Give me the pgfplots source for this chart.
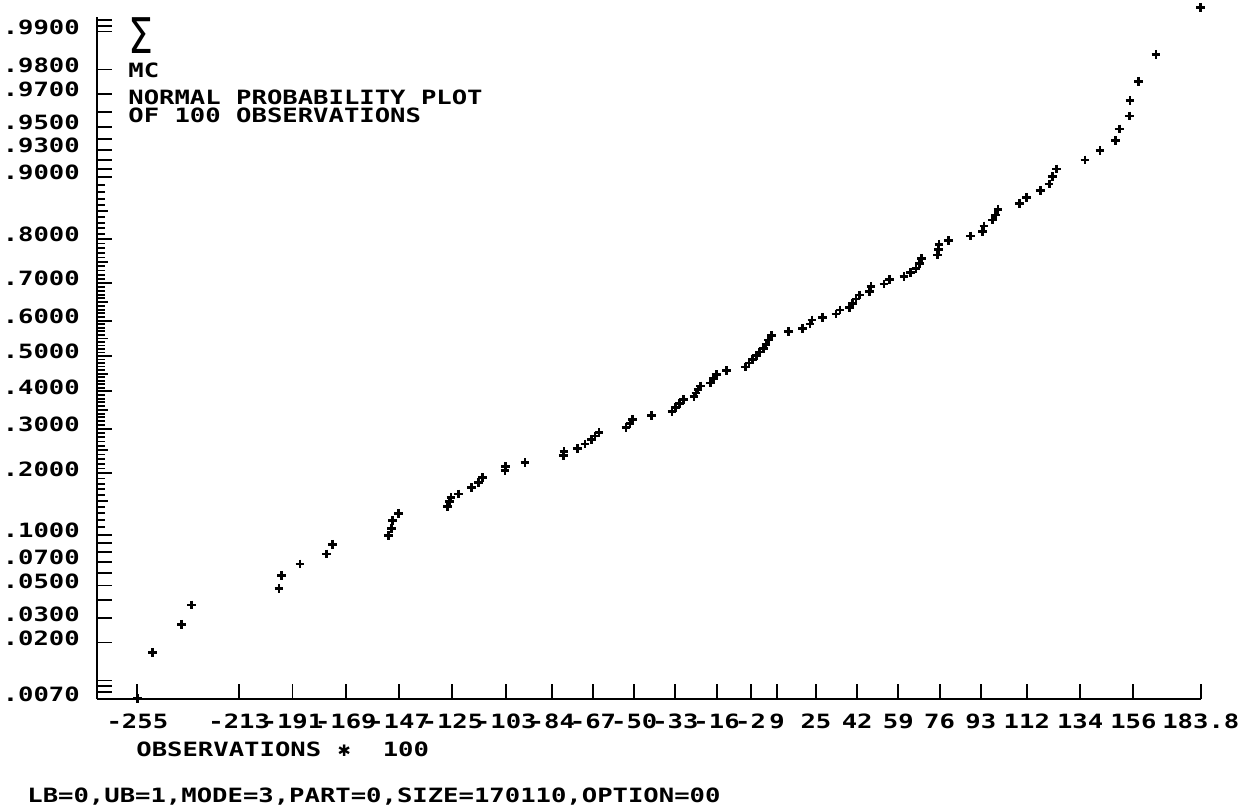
\documentclass[border=0pt]{standalone}
\usepackage{fontspec}
\usepackage{graphicx}
\usepackage{pgfplots}
\pgfplotsset{compat=1.18}
\newfontfamily\plotfont[FakeStretch=1.3, UprightFont=* Bold]{DejaVu Sans Mono}
\newfontfamily\symfont{DejaVu Sans}
\newcommand\pf{\plotfont\fontsize{11.2}{13}\selectfont}
\begin{document}
\begin{tikzpicture}
\path[use as bounding box] (0,0) rectangle (25.06cm,-16.2cm);
\begin{axis}[
  at={(1.94cm,-13.98cm)}, anchor=south west,
  scale only axis, width=22.076cm, height=13.64cm,
  xmin=-271.67, xmax=183.8, ymin=-2.4588, ymax=2.4301,
  axis x line=bottom, axis y line=left,
  x axis line style={-, line width=1.2pt},
  y axis line style={-, line width=1.7pt},
  tick align=inside,
  major tick length=8.5pt,
  minor tick length=4.5pt,
  every tick/.style={black, line width=1.1pt},
  every minor tick/.append style={line width=1.1pt},
  clip=false,
  xtick={-255,-213,-191,-169,-147,-125,-103,-84,-67,-50,-33,-16,-2,9,25,42,59,76,93,112,134,156,183.8},
  xticklabels={-255,-213,-191,-169,-147,-125,-103,-84,-67,-50,-33,-16,-2,9,25,42,59,76,93,112,134,156,183.8},
  xticklabel style={font=\pf, anchor=north, inner sep=0pt, yshift=-8.5pt},
  ytick={2.3263,2.0537,1.8808,1.6449,1.4758,1.2816,0.8416,0.5244,0.2533,0,-0.2533,-0.5244,-0.8416,-1.2816,-1.4758,-1.6449,-1.8808,-2.0537,-2.4573,2.3656,2.4089,1.3408,1.4051,1.5548,1.7507,-2.3263,-1.7507,-1.5548,-1.4051,-1.3408,-2.4089,-2.3656},
  yticklabels={.9900,.9800,.9700,.9500,.9300,.9000,.8000,.7000,.6000,.5000,.4000,.3000,.2000,.1000,.0700,.0500,.0300,.0200,.0070,{},{},{},{},{},{},{},{},{},{},{},{},{}},
  yticklabel style={font=\pf, anchor=east, inner sep=0pt, xshift=-9.6pt, yshift=2.5pt},
  minor ytick={-1.2265,-1.1750,-1.1264,-1.0803,-0.9945,-0.9542,-0.9154,-0.8779,-0.8064,-0.7722,-0.7388,-0.7063,-0.6433,-0.6128,-0.5828,-0.5534,-0.4959,-0.4677,-0.4399,-0.4125,-0.3585,-0.3319,-0.3055,-0.2793,-0.2275,-0.2019,-0.1764,-0.1510,-0.1004,-0.0753,-0.0502,-0.0251,0.0251,0.0502,0.0753,0.1004,0.1510,0.1764,0.2019,0.2275,0.2793,0.3055,0.3319,0.3585,0.4125,0.4399,0.4677,0.4959,0.5534,0.5828,0.6128,0.6433,0.7063,0.7388,0.7722,0.8064,0.8779,0.9154,0.9542,0.9945,1.0803,1.1264,1.1750,1.2265},
  extra y ticks={-1.0364,-0.6745,-0.3853,-0.1257,0.1257,0.3853,0.6745,1.0364},
  extra y tick labels={{},{},{},{},{},{},{},{}},
  extra y tick style={major tick length=6pt},
]
\addplot[only marks, mark=+, mark size=2.5pt, mark options={line width=1.6pt, black}] coordinates {
(-255,-2.455) (-248.7,-2.124) (-236.7,-1.923) (-232.6,-1.785) (-196.6,-1.668)
(-195.5,-1.575) (-187.9,-1.491) (-176.9,-1.419) (-174.6,-1.350) (-151.5,-1.288)
(-150.1,-1.235) (-149.7,-1.181) (-147.1,-1.128) (-127.0,-1.080) (-126.3,-1.044)
(-125.6,-1.014) (-122.6,-0.989) (-117.1,-0.943) (-114.3,-0.908) (-112.5,-0.871)
(-103.3,-0.822) (-103.0,-0.794) (-95.1,-0.765) (-79.3,-0.713) (-79.0,-0.685)
(-73.5,-0.662) (-70.3,-0.631) (-67.5,-0.597) (-66.2,-0.573) (-64.5,-0.548)
(-53.4,-0.514) (-51.7,-0.482) (-50.6,-0.454) (-42.8,-0.425) (-34.4,-0.398)
(-33.0,-0.369) (-31.3,-0.341) (-29.7,-0.312) (-25.3,-0.292) (-24.5,-0.265)
(-23.7,-0.240) (-22.6,-0.215) (-18.4,-0.194) (-17.3,-0.161) (-16.2,-0.133)
(-11.8,-0.105) (-4.0,-0.079) (-2.6,-0.050) (-1.2,-0.025) (0.3,0.004)
(1.7,0.029) (3.2,0.054) (4.4,0.082) (5.4,0.115) (6.7,0.147)
(13.6,0.174) (19.5,0.199) (22.5,0.229) (23.4,0.258) (27.6,0.277)
(33.3,0.301) (34.9,0.330) (38.8,0.349) (40.1,0.376) (41.5,0.409)
(43.0,0.437) (47.0,0.461) (47.7,0.497) (53.1,0.516) (55.3,0.550)
(61.3,0.568) (64.1,0.597) (66.3,0.629) (67.6,0.665) (68.6,0.700)
(75.2,0.724) (75.5,0.765) (75.8,0.801) (79.6,0.827) (88.9,0.860)
(93.8,0.891) (94.3,0.932) (97.8,0.975) (99.0,1.011) (100.1,1.052)
(108.9,1.095) (112.0,1.138) (117.5,1.185) (121.2,1.233) (122.5,1.285)
(124.3,1.341) (136.0,1.405) (142.2,1.472) (148.7,1.543) (150.1,1.627)
(154.3,1.720) (154.6,1.830) (158.2,1.969) (165.3,2.163) (183.8,2.500)
};
\end{axis}
\begin{scope}[x=0.02cm,y=-0.02cm]
\node[anchor=north west, inner sep=0pt] at (128,17) {\resizebox{14.2pt}{20.4pt}{\symfont Σ}};
\node[anchor=north west, inner sep=0pt] at (128,63) {\pf MC};
\node[anchor=base west, inner sep=0pt] at (128,104) {\pf NORMAL PROBABILITY PLOT};
\node[anchor=base west, inner sep=0pt] at (128,122) {\pf OF 100 OBSERVATIONS};
\node[anchor=base west, inner sep=0pt] at (136,756) {\pf OBSERVATIONS\ \makebox[8.76pt]{\symfont\fontsize{9}{10}\selectfont ✱}\ \ 100};
\node[anchor=base west, inner sep=0pt] at (27,802) {\pf LB=0,UB=1,MODE=3,PART=0,SIZE=170110,OPTION=00};
\end{scope}
\end{tikzpicture}
\end{document}
